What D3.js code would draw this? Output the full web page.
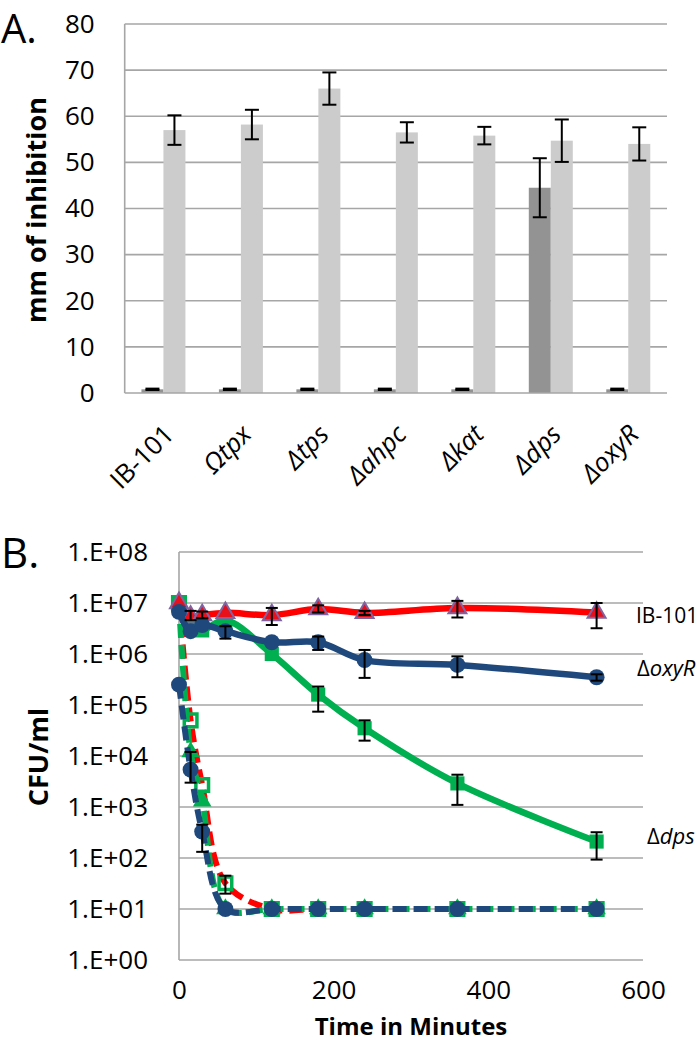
<!DOCTYPE html>
<html><head><meta charset="utf-8">
<script src="https://cdn.jsdelivr.net/npm/d3@7"></script>
<style>
body{margin:0;background:#fff}
svg{display:block}
text{font-family:"Open Sans","Noto Sans",sans-serif;fill:#000}
</style>
</head><body>
<svg id="c" width="700" height="1043"></svg>
<script>
// ---------- Panel A data ----------
const strains = ["IB-101","Ωtpx","Δtps","Δahpc","Δkat","Δdps","ΔoxyR"];
const strainItalic = [false,true,true,true,true,true,true];
const darkValues = [0.8,0.8,0.8,0.8,0.8,44.5,0.8];
const darkErrors = [0.15,0.15,0.15,0.15,0.15,6.4,0.15];
const lightValues = [57.0,58.2,66.0,56.5,55.8,54.7,54.0];
const lightErrors = [3.2,3.2,3.5,2.2,1.9,4.6,3.6];
const yTicksA = [0,10,20,30,40,50,60,70,80];

// ---------- Panel B data ----------
const times = [0,15,30,60,120,180,240,360,540];
const ib101Solid = [1e7,5.4e6,5.8e6,6.4e6,5.8e6,7.6e6,6.4e6,8e6,6.5e6];
const ib101SolidLo = [null,4.6e6,5e6,null,3.7e6,6.5e6,5.8e6,5.2e6,3.2e6];
const ib101SolidHi = [null,7e6,6.8e6,null,8e6,9e6,7e6,1.1e7,1.0e7];
const oxyRSolid = [6.7e6,2.8e6,3.7e6,2.8e6,1.7e6,1.7e6,7.6e5,6.1e5,3.5e5];
const oxyRSolidLo = [null,null,null,2e6,null,1.2e6,3.4e5,3.5e5,3e5];
const oxyRSolidHi = [null,null,null,3.5e6,null,2.2e6,1.2e6,9e5,4e5];
const dpsSolid = [1e7,3.2e6,2.9e6,4.6e6,1.0e6,1.6e5,3.5e4,2.9e3,2.1e2];
const dpsSolidLo = [null,null,null,null,null,7.4e4,2e4,1.1e3,93];
const dpsSolidHi = [null,null,null,null,null,2.3e5,5e4,4.3e3,3.2e2];
const ib101Dashed = [1e7,5e4,2.7e3,32,10,10,10,10,10];
const ib101DashedLo = [null,null,null,20,null,null,null,null,null];
const ib101DashedHi = [null,null,null,45,null,null,null,null,null];
const dpsDashed = [1e7,1.2e4,1.3e3,10,10,10,10,10,10];
const oxyRDashed = [2.5e5,5.4e3,330,10,10,10,10,10,10];
const oxyRDashedLo = [null,3e3,132,null,null,null,null,null,null];
const oxyRDashedHi = [null,1.2e4,450,null,null,null,null,null,null];
const yTicksB = [1,10,100,1e3,1e4,1e5,1e6,1e7,1e8];
const xTicksB = [0,200,400,600];

const svg = d3.select("#c");
const gridColor = "#a6a6a6";
const tickFont = "26px";

// ================= Panel A =================
const xA = d3.scaleBand().domain(strains).range([124.7,667]);
const yA = d3.scaleLinear().domain([0,80]).range([393,24]);
const barW = 22;
const gA = svg.append("g");

gA.selectAll("line.grid").data(yTicksA.filter(d=>d>0)).join("line")
  .attr("x1",124.7).attr("x2",667).attr("y1",d=>yA(d)).attr("y2",d=>yA(d))
  .attr("stroke",gridColor).attr("stroke-width",1.6);

const axA = gA.append("g").attr("transform","translate(124.7,0)")
  .call(d3.axisLeft(yA).tickValues(yTicksA).tickSize(0).tickPadding(30));
axA.select(".domain").remove();
axA.selectAll("text").style("font-size",tickFont).attr("font-family",null);

const cx = d => xA(d) + xA.bandwidth()/2;
gA.selectAll("rect.dark").data(strains).join("rect")
  .attr("x",d=>cx(d)-barW).attr("width",barW)
  .attr("y",(d,i)=>yA(darkValues[i])).attr("height",(d,i)=>yA(0)-yA(darkValues[i]))
  .attr("fill","#939393");
gA.selectAll("rect.light").data(strains).join("rect")
  .attr("x",d=>cx(d)).attr("width",barW)
  .attr("y",(d,i)=>yA(lightValues[i])).attr("height",(d,i)=>yA(0)-yA(lightValues[i]))
  .attr("fill","#cccccc");

gA.append("line").attr("x1",124.7).attr("x2",124.7).attr("y1",24).attr("y2",393)
  .attr("stroke",gridColor).attr("stroke-width",1.6);
gA.append("line").attr("x1",124.7).attr("x2",667).attr("y1",393).attr("y2",393)
  .attr("stroke",gridColor).attr("stroke-width",1.6);

function errBar(g, x, y1, y2, cap){
  g.append("line").attr("x1",x).attr("x2",x).attr("y1",y1).attr("y2",y2)
    .attr("stroke","#000").attr("stroke-width",2);
  [y1,y2].forEach(y=>g.append("line").attr("x1",x-cap/2).attr("x2",x+cap/2)
    .attr("y1",y).attr("y2",y).attr("stroke","#000").attr("stroke-width",2));
}
strains.forEach((s,i)=>{
  errBar(gA, cx(s)-barW/2, yA(darkValues[i]+darkErrors[i]), yA(darkValues[i]-darkErrors[i]), 14);
  errBar(gA, cx(s)+barW/2, yA(lightValues[i]+lightErrors[i]), yA(lightValues[i]-lightErrors[i]), 14);
});

strains.forEach((s,i)=>{
  gA.append("text").attr("transform",`translate(${cx(s)+12},436) rotate(-45)`)
    .attr("text-anchor","end").style("font-size","26px")
    .style("font-style",strainItalic[i]?"italic":"normal").text(s);
});

gA.append("text").attr("transform","translate(46,210) rotate(-90)")
  .attr("text-anchor","middle").style("font-size","27px").style("font-weight","bold")
  .text("mm of inhibition");
svg.append("text").attr("x",1).attr("y",43).style("font-size","40px").text("A.");

// ================= Panel B =================
const xB = d3.scaleLinear().domain([0,600]).range([179,643]);
const yB = d3.scaleLog().domain([1,1e8]).range([960,552]);
const gB = svg.append("g");

gB.selectAll("line.grid").data(yTicksB.filter(d=>d>1)).join("line")
  .attr("x1",179).attr("x2",643).attr("y1",d=>yB(d)).attr("y2",d=>yB(d))
  .attr("stroke",gridColor).attr("stroke-width",1.6);
gB.append("line").attr("x1",179).attr("x2",179).attr("y1",552).attr("y2",960)
  .attr("stroke",gridColor).attr("stroke-width",1.6);
gB.append("line").attr("x1",179).attr("x2",643).attr("y1",960).attr("y2",960)
  .attr("stroke",gridColor).attr("stroke-width",1.6);

const axBy = gB.append("g").attr("transform","translate(179,0)")
  .call(d3.axisLeft(yB).tickValues(yTicksB).tickSize(0).tickPadding(31)
    .tickFormat(d=>"1.E+" + String(Math.round(Math.log10(d))).padStart(2,"0")));
axBy.select(".domain").remove();
axBy.selectAll("text").style("font-size",tickFont).attr("font-family",null);

const axBx = gB.append("g").attr("transform","translate(0,960)")
  .call(d3.axisBottom(xB).tickValues(xTicksB).tickSize(0).tickPadding(21));
axBx.select(".domain").remove();
axBx.selectAll("text").style("font-size",tickFont).attr("font-family",null);

const lineGen = d3.line().x(d=>xB(d[0])).y(d=>yB(d[1])).curve(d3.curveCatmullRom.alpha(0.5));
const pts = vals => times.map((t,i)=>[t,vals[i]]);

const red="#ff0000", green="#00b050", navy="#1f497d", purple="#8064a2";

function series(vals, color, dashed){
  gB.append("path").attr("d",lineGen(pts(vals))).attr("fill","none")
    .attr("stroke",color).attr("stroke-width",dashed?6:6.5)
    .attr("stroke-dasharray",dashed?"14,7":null).attr("stroke-linejoin","round");
}
function markers(vals, type, size, fill, stroke, sw){
  gB.selectAll(null).data(pts(vals)).join("path")
    .attr("transform",d=>`translate(${xB(d[0])},${yB(d[1])})`)
    .attr("d",d3.symbol().type(type).size(size)())
    .attr("fill",fill).attr("stroke",stroke||"none").attr("stroke-width",sw||0);
}
function errs(lo, hi){
  times.forEach((t,i)=>{
    if(lo[i]!=null) errBar(gB, xB(t), yB(hi[i]), yB(lo[i]), 12);
  });
}

series(ib101Dashed, red, true);
series(dpsDashed, green, true);
markers(ib101Dashed, d3.symbolSquare, 160, "none", green, 3.5);
markers(dpsDashed, d3.symbolTriangle, 150, green);
series(oxyRDashed, navy, true);
markers(oxyRDashed, d3.symbolCircle, 200, navy);
errs(ib101DashedLo, ib101DashedHi);
errs(oxyRDashedLo, oxyRDashedHi);

series(dpsSolid, green, false);
markers(dpsSolid, d3.symbolSquare, 200, green);
series(ib101Solid, red, false);
markers(ib101Solid, d3.symbolTriangle, 140, "#e8101a", purple, 2);
series(oxyRSolid, navy, false);
markers(oxyRSolid, d3.symbolCircle, 200, navy);
errs(dpsSolidLo, dpsSolidHi);
errs(ib101SolidLo, ib101SolidHi);
errs(oxyRSolidLo, oxyRSolidHi);

gB.append("text").attr("x",636).attr("y",623).style("font-size","21px").text("IB-101");
const t2 = gB.append("text").attr("x",637).attr("y",676).style("font-size","22px");
t2.append("tspan").text("Δ"); t2.append("tspan").style("font-style","italic").text("oxyR");
const t3 = gB.append("text").attr("x",647).attr("y",844).style("font-size","22px");
t3.append("tspan").text("Δ"); t3.append("tspan").style("font-style","italic").text("dps");

gB.append("text").attr("transform","translate(48,757) rotate(-90)")
  .attr("text-anchor","middle").style("font-size","27px").style("font-weight","bold").text("CFU/ml");
gB.append("text").attr("x",411).attr("y",1035).attr("text-anchor","middle")
  .style("font-size","24px").style("font-weight","bold").text("Time in Minutes");
svg.append("text").attr("x",1).attr("y",568).style("font-size","42px").text("B.");
</script>
</body></html>
